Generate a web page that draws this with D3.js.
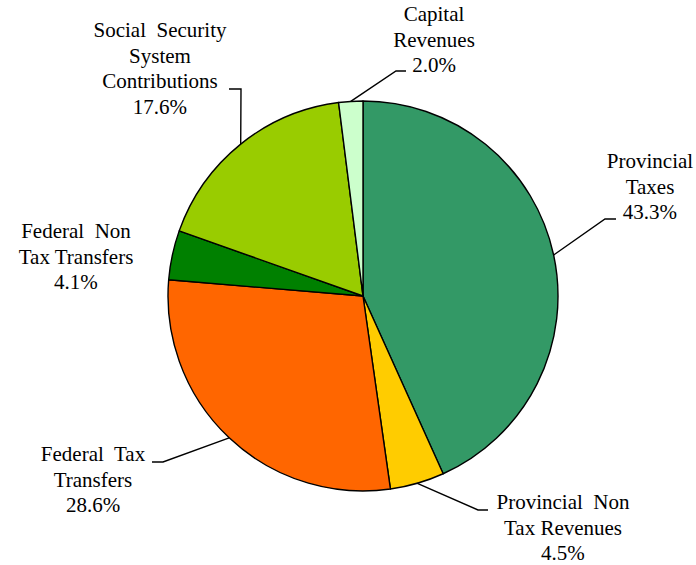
<!DOCTYPE html>
<html>
<meta charset="UTF-8">
<head>
    <script src="https://d3js.org/d3.v7.min.js"></script>
    <style>
        body { margin: 0; background: white; }
        #wrap { position: relative; width: 696px; height: 565px; }
        svg { position: absolute; left: 0; top: 0; }
        .lbl {
            position: absolute;
            font-family: "Liberation Serif", "Times New Roman", serif;
            font-size: 21px;
            line-height: 25.5px;
            color: black;
            text-align: center;
            white-space: pre;
            transform: translateX(-50%);
        }
    </style>
</head>
<body>
<div id="wrap"></div>
<script>
    // slices, clockwise from 12 o'clock
    let categories = [
        ["Provincial", "Taxes"],
        ["Provincial  Non", "Tax Revenues"],
        ["Federal  Tax", "Transfers"],
        ["Federal  Non", "Tax Transfers"],
        ["Social  Security", "System", "Contributions"],
        ["Capital", "Revenues"]
    ];
    let values = [43.3, 4.5, 28.6, 4.1, 17.6, 2.0];
    let colors = ["#339966", "#FFCC00", "#FF6600", "#008000", "#99CC00", "#CCFFCC"];

    // label placement: text centre x, first baseline, leader elbow and end (null = no leader)
    let labelPos = [
        {x: 650, y: 169, elbow: [605, 219], end: [616, 219]},
        {x: 563, y: 510, elbow: [478, 510], end: [488, 510]},
        {x: 93,  y: 462, elbow: [163, 462], end: [152, 462]},
        {x: 76,  y: 239, elbow: null, end: null},
        {x: 160, y: 38,  elbow: [241, 89], end: [229, 89]},
        {x: 434, y: 22,  elbow: [396, 71], end: [406, 71]}
    ];

    let width = 696, height = 565;
    let cx = 363, cy = 296, radius = 195;
    let baselineOffset = 19.9; // first baseline from top of the label box

    let wrap = d3.select("#wrap");
    let svg = wrap.append("svg")
        .attr("width", width)
        .attr("height", height);

    let pie = d3.pie().sort(null).value(d => d);
    let arcs = pie(values);
    let arc = d3.arc().innerRadius(0).outerRadius(radius);

    let g = svg.append("g").attr("transform", `translate(${cx},${cy})`);

    g.selectAll("path")
        .data(arcs)
        .join("path")
        .attr("d", arc)
        .attr("fill", (d, i) => colors[i])
        .attr("stroke", "black")
        .attr("stroke-width", 1.4)
        .attr("stroke-linejoin", "round");

    // leader lines from slice mid-angle on the rim
    arcs.forEach((d, i) => {
        let p = labelPos[i];
        if (!p.elbow) return;
        let a = (d.startAngle + d.endAngle) / 2;
        let sx = cx + radius * Math.sin(a);
        let sy = cy - radius * Math.cos(a);
        svg.append("polyline")
            .attr("points", [[sx, sy], p.elbow, p.end].map(q => q.join(",")).join(" "))
            .attr("fill", "none")
            .attr("stroke", "black")
            .attr("stroke-width", 1.4);
    });

    // labels as html blocks on top of the svg
    arcs.forEach((d, i) => {
        let p = labelPos[i];
        let lines = categories[i].concat([values[i].toFixed(1) + "%"]);
        wrap.append("div")
            .attr("class", "lbl")
            .style("left", p.x + "px")
            .style("top", (p.y - baselineOffset) + "px")
            .text(lines.join("\n"));
    });
</script>
</body>
</html>
